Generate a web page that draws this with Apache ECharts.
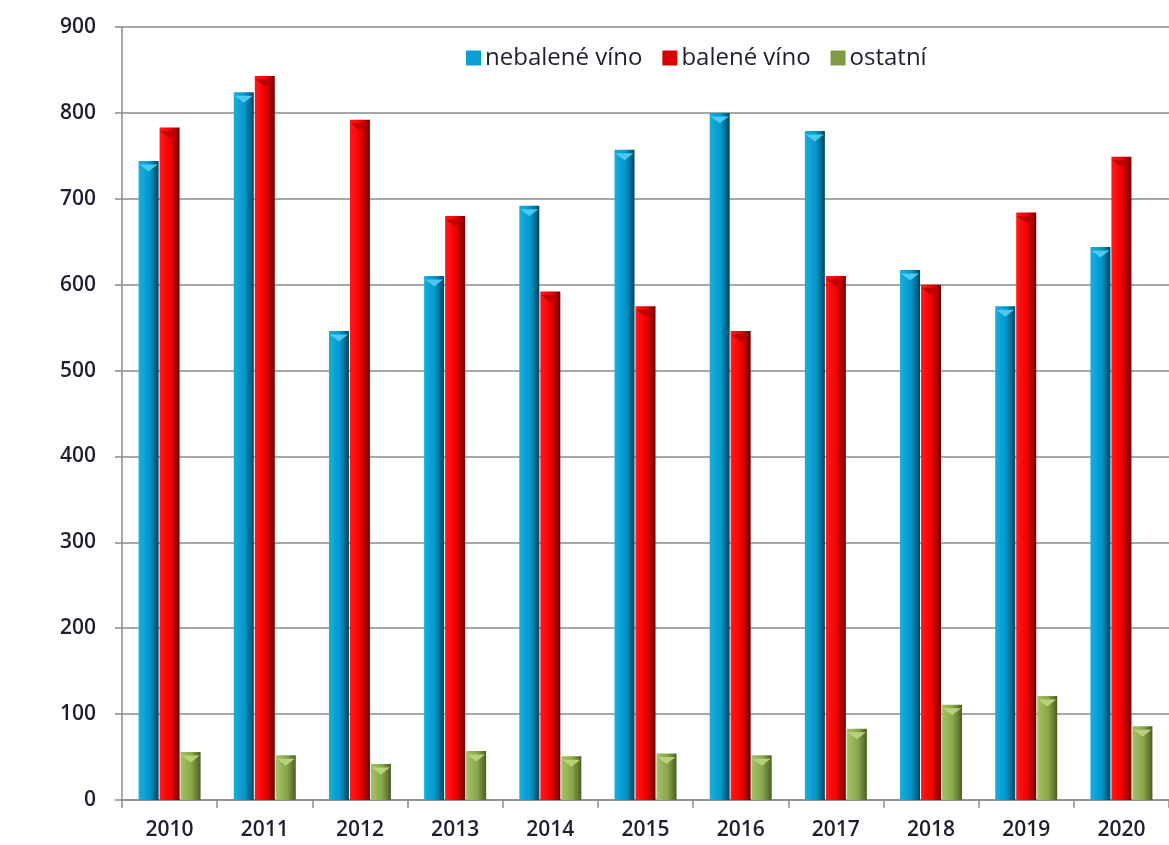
<!DOCTYPE html>
<html>
<head>
<meta charset="utf-8">
<script src="https://cdn.jsdelivr.net/npm/echarts@6/dist/echarts.min.js"></script>
<style>
html,body{margin:0;padding:0;background:#fff;}
#chart{width:1169px;height:845px;}
</style>
</head>
<body>
<div id="chart"></div>
<script>
const years = ['2010','2011','2012','2013','2014','2015','2016','2017','2018','2019','2020'];
const nebalene = [744, 824, 546, 610, 692, 757, 800, 779, 617, 575, 644];
const balene   = [783, 843, 792, 680, 592, 575, 546, 610, 600, 684, 749];
const ostatni  = [56, 52, 42, 57, 51, 54, 52, 83, 111, 121, 86];
const seriesNames = ['nebalené víno', 'balené víno', 'ostatní'];
const yTicks = [0, 100, 200, 300, 400, 500, 600, 700, 800, 900];

function grad(c1, c2, c3) {
  return new echarts.graphic.LinearGradient(0, 0, 1, 0, [
    {offset: 0, color: c1}, {offset: 0.55, color: c2}, {offset: 1, color: c3}
  ]);
}
const colors = [
  grad('#19ade0', '#0098cc', '#00465f'),
  grad('#ff1a1a', '#f00000', '#6e0000'),
  grad('#a6c266', '#8aa64a', '#4a5e24')
];
const capColors = ['#55cdf3', '#b80000', '#bcd880'];
const legendColors = ['#0aa0d6', '#d80000', '#7f9b45'];

const chart = echarts.init(document.getElementById('chart'), null, {renderer: 'canvas'});
const textColor = '#1e1e30';
const font = 'Open Sans';

const datasets = [nebalene, balene, ostatni];
const barSeries = datasets.map((d, i) => ({
  name: seriesNames[i],
  type: 'bar',
  data: d,
  barWidth: 20,
  barGap: '5%',
  itemStyle: {color: colors[i]},
  z: 2
}));
const capSeries = datasets.map((d, i) => ({
  name: seriesNames[i],
  type: 'pictorialBar',
  data: d,
  barWidth: 20,
  barGap: '5%',
  symbol: 'path://M0,0 L10,0 L5,4 Z',
  symbolSize: [18, 7],
  symbolPosition: 'end',
  symbolOffset: [0, '50%'],
  itemStyle: {color: capColors[i], opacity: 0.9},
  z: 3,
  silent: true
}));

chart.setOption({
  animation: false,
  backgroundColor: '#ffffff',
  grid: {left: 122, right: -1, top: 27, bottom: 45, containLabel: false},
  legend: {
    left: 461, top: 41,
    icon: 'rect', itemWidth: 15, itemHeight: 15, itemGap: 20,
    textStyle: {fontFamily: font, fontSize: 24, color: textColor, padding: [0,0,0,-1]},
    data: seriesNames.map((n, i) => ({name: n, itemStyle: {color: legendColors[i]}}))
  },
  xAxis: {
    type: 'category',
    data: years,
    axisLine: {lineStyle: {color: '#8c8c8c', width: 1.5}},
    axisTick: {show: true, length: 8, lineStyle: {color: '#8c8c8c', width: 1.5}},
    axisLabel: {fontFamily: font, fontSize: 21, fontWeight: 600, color: textColor, margin: 20}
  },
  yAxis: {
    type: 'value', min: yTicks[0], max: yTicks[yTicks.length - 1], interval: yTicks[1] - yTicks[0],
    axisLine: {show: true, lineStyle: {color: '#8c8c8c', width: 1.5}},
    axisTick: {show: true, length: 7, lineStyle: {color: '#8c8c8c', width: 1.5}},
    splitLine: {lineStyle: {color: '#a8a8a8', width: 1.8}},
    axisLabel: {fontFamily: font, fontSize: 21, fontWeight: 600, color: textColor, margin: 26}
  },
  series: barSeries.concat(capSeries)
});
</script>
</body>
</html>
